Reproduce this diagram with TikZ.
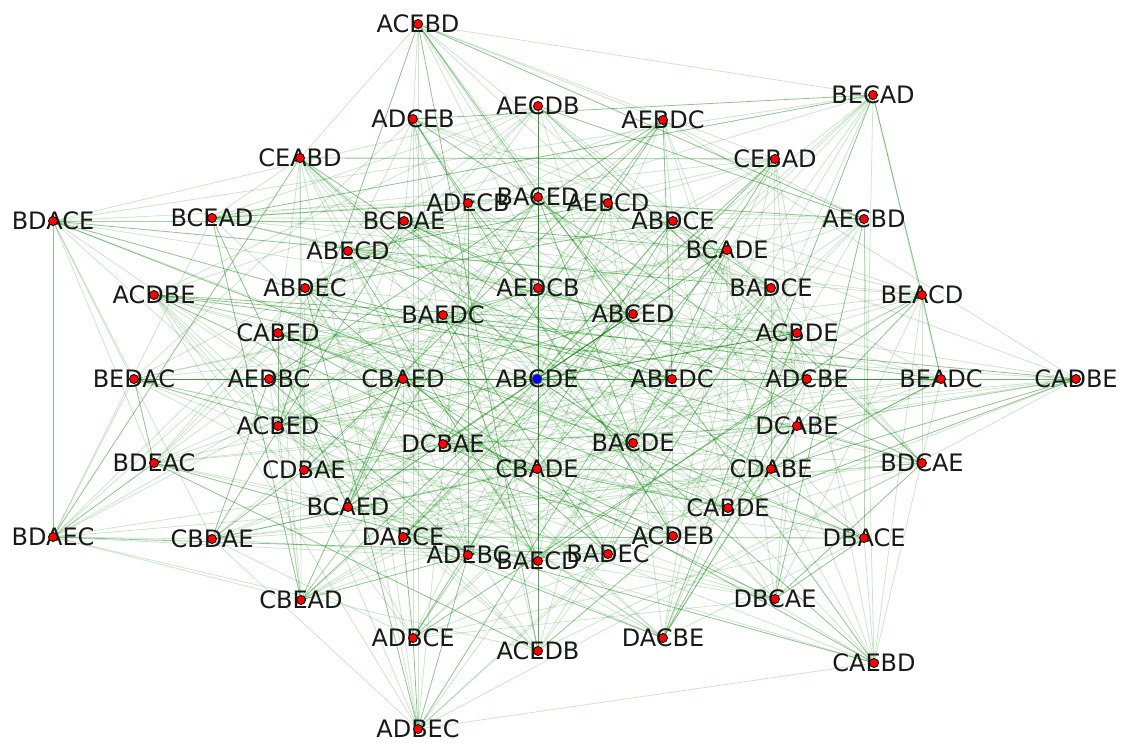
\documentclass[tikz,border=0pt]{standalone}
\usepackage{fontspec}
\setmainfont{DejaVu Sans}
\definecolor{mplgreen}{RGB}{0,128,0}
\definecolor{mplred}{RGB}{255,0,0}
\definecolor{mplblue}{RGB}{0,0,255}
\pgfdeclarelayer{bglayer}
\pgfdeclarelayer{edgelayer}
\pgfsetlayers{bglayer,edgelayer,main}
\makeatletter
\def\nodedata{ACEBD/418/24,BECAD/873/95,ADCEB/413/119,AECDB/538/106,AEBDC/663/120,CEABD/300/158,CEBAD/775/159,BDACE/53/221,BCEAD/212/218,ADECB/468/203,BACED/538/197,AEBCD/608/203,BCDAE/404/221,ABDCE/673/221,AECBD/864/219,ABECD/348/251,BCADE/727/250,ACDBE/154/295,ABDEC/305/288,AEDCB/538/288,BADCE/771/288,BEACD/922/295,BAEDC/443/315,ABCED/633/314,CABED/278/333,ACBDE/797/333,BEDAC/134/379,AEDBC/269/379,CBAED/403/379,ABCDE/537/379,ABEDC/672/379,ADCBE/807/379,BEADC/941/379,CADBE/1076/379,ACBED/278/426,DCABE/797/426,DCBAE/443/444,BACDE/633/443,BDEAC/154/463,CDBAE/304/470,CBADE/537/469,CDABE/771/469,BDCAE/922/463,BCAED/348/507,CABDE/728/508,BDAEC/53/537,CBDAE/212/539,DABCE/403/537,ACDEB/673/536,DBACE/864/538,ADEBC/468/555,BAECD/538/561,BADEC/608/554,CBEAD/301/600,DBCAE/775/599,ADBCE/413/638,DACBE/663/638,ACEDB/538/651,CAEBD/874/663,ADBEC/418/729}
\newcount\nn \nn=0
\def\regnode#1/#2/#3\@nil{\global\advance\nn by 1 \expandafter\xdef\csname idx@#1\endcsname{\the\nn}\expandafter\xdef\csname name@\the\nn\endcsname{#1}}
\@for\nd:=\nodedata\do{\expandafter\regnode\nd\@nil}
\expandafter\def\csname ord@A\endcsname{1}
\expandafter\def\csname ord@B\endcsname{2}
\expandafter\def\csname ord@C\endcsname{3}
\expandafter\def\csname ord@D\endcsname{4}
\expandafter\def\csname ord@E\endcsname{5}
% insertion moves: take one element and put it at another position
\def\patterns{21345,23145,23415,23451,21345,13245,13425,13452,31245,13245,12435,12453,41235,14235,12435,12354,51234,15234,12534,12354}
\let\doedge\relax
\gdef\edgelist{}
\def\splitfive#1#2#3#4#5{%
  \expandafter\def\csname pc1\endcsname{#1}%
  \expandafter\def\csname pc2\endcsname{#2}%
  \expandafter\def\csname pc3\endcsname{#3}%
  \expandafter\def\csname pc4\endcsname{#4}%
  \expandafter\def\csname pc5\endcsname{#5}}
\def\applypat#1#2#3#4#5{%
  \ifnum\csname ord@\csname pc#1\endcsname\endcsname<\csname ord@\csname pc#5\endcsname\endcsname\relax
    \edef\curY{\csname pc#1\endcsname\csname pc#2\endcsname\csname pc#3\endcsname\csname pc#4\endcsname\csname pc#5\endcsname}%
  \else
    \edef\curY{\csname pc#5\endcsname\csname pc#4\endcsname\csname pc#3\endcsname\csname pc#2\endcsname\csname pc#1\endcsname}%
  \fi
  \edef\curJ{\csname idx@\curY\endcsname}%
  \ifnum\curI<\curJ\relax
    \edef\key{\curI-\curJ}\edef\kargs{{\curI}{\curJ}}%
  \else
    \edef\key{\curJ-\curI}\edef\kargs{{\curJ}{\curI}}%
  \fi
  \expandafter\ifx\csname w@\key\endcsname\relax
    \expandafter\xdef\csname w@\key\endcsname{1}%
    \xdef\edgelist{\edgelist\noexpand\doedge\kargs}%
  \else
    \count@=\csname w@\key\endcsname\relax
    \advance\count@ by 1
    \expandafter\xdef\csname w@\key\endcsname{\the\count@}%
  \fi}
\def\procnode#1/#2/#3\@nil{%
  \edef\curX{#1}%
  \expandafter\splitfive\curX
  \edef\curI{\csname idx@#1\endcsname}%
  \@for\pat:=\patterns\do{\expandafter\applypat\pat}}
\@for\nd:=\nodedata\do{\expandafter\procnode\nd\@nil}
\def\doedge#1#2{%
  \edef\na{\csname name@#1\endcsname}%
  \edef\nb{\csname name@#2\endcsname}%
  \ifnum\csname w@#1-#2\endcsname>2
    \draw[edgestrong] (\na) -- (\nb);%
  \else
    \draw[edgeweak] (\na) -- (\nb);%
  \fi}
\def\centralname{ABCDE}
\tikzset{
  edgestrong/.style={draw=mplgreen, draw opacity=0.45, line width=0.8pt},
  edgeweak/.style={draw=mplgreen, draw opacity=0.2, line width=0.8pt},
  lab/.style={inner sep=0pt, outer sep=0pt, anchor=center, text=black!90, font=\fontsize{24}{28}\selectfont},
  reddot/.style={circle, draw=black, line width=0.8pt, fill=mplred, minimum size=9pt, inner sep=0pt, outer sep=0pt},
  bluedot/.style={circle, draw=black!70, line width=0.8pt, fill=mplblue, minimum size=10pt, inner sep=0pt, outer sep=0pt}
}
\begin{document}
\begin{tikzpicture}[x=1pt,y=-1pt]
\useasboundingbox (0,0) rectangle (1123,742);
\begin{pgfonlayer}{bglayer}
\fill[white] (0,0) rectangle (1123,742);
\end{pgfonlayer}
\foreach \n/\x/\y in \nodedata {
  \node[lab] (l\n) at (\x,\y) {\n};
  \edef\cur{\n}%
  \ifx\cur\centralname
    \node[bluedot] (\n) at (\x,\y) {};
  \else
    \node[reddot] (\n) at (\x,\y) {};
  \fi
}
\begin{pgfonlayer}{edgelayer}
\edgelist
\end{pgfonlayer}
\end{tikzpicture}
\end{document}
